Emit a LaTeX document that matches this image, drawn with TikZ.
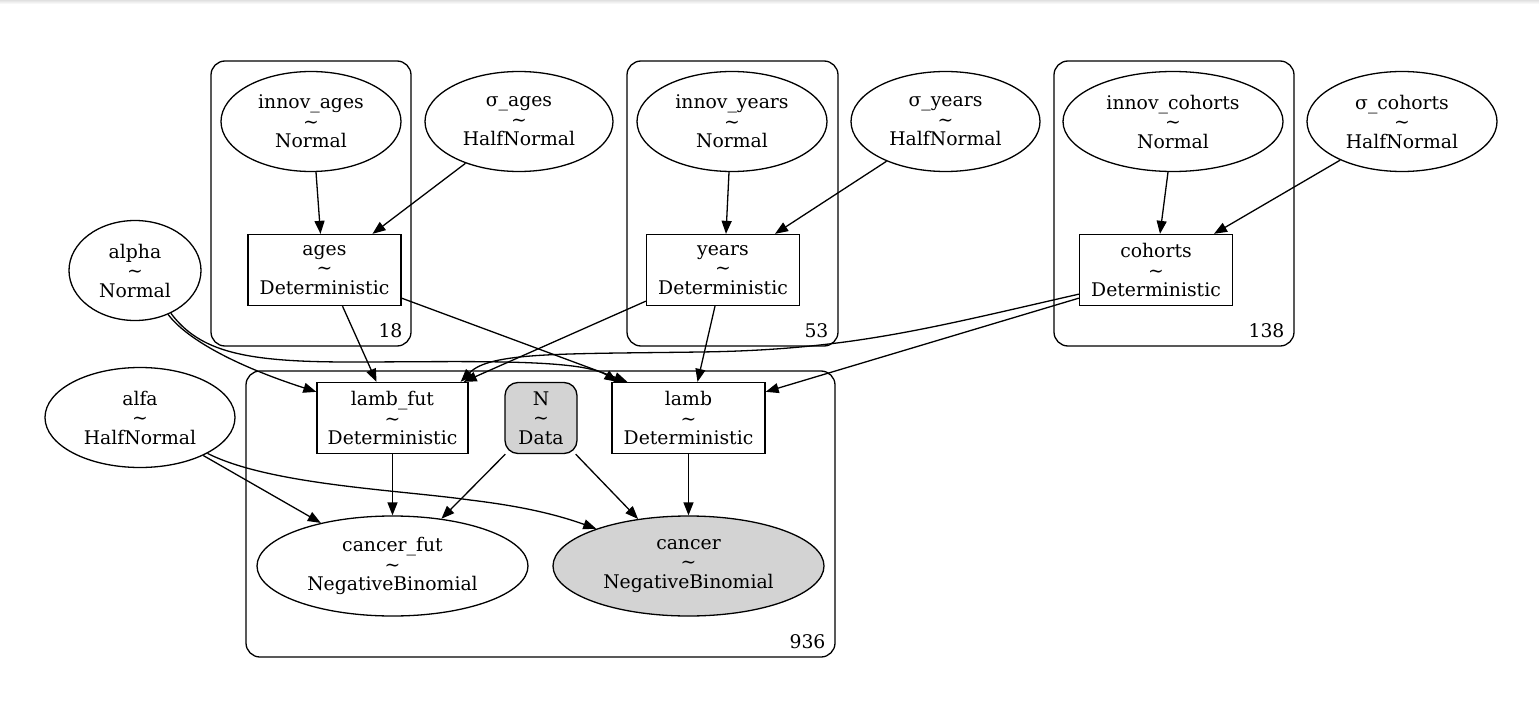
\documentclass[tikz,border=0pt]{standalone}
\usepackage{fontspec}
\setmainfont{DejaVu Serif}
\usetikzlibrary{arrows.meta,shapes.geometric}
\definecolor{lgray}{HTML}{D3D3D3}
\begin{document}
\begin{tikzpicture}[x=1pt,y=-1pt,
  every node/.style={font=\fontsize{18.8}{19.5}\selectfont, align=center, inner sep=0pt},
  rv/.style={draw, ellipse, minimum height=100pt, line width=1.3pt},
  det/.style={draw, rectangle, minimum width=153pt, minimum height=71pt, line width=1.3pt},
  plate/.style={draw, rectangle, rounded corners=14pt, line width=1.3pt},
  platelbl/.style={anchor=south east},
  edge/.style={draw, line width=1.3pt, -{Triangle[length=13pt,width=10pt]}},
]
\useasboundingbox (0,0) rectangle (1539,706);
\fill[white] (0,0) rectangle (1539,706);
\shade[top color=black!12, bottom color=white] (0,0) rectangle (1539,4);

% plates
\node[plate, minimum width=200pt, minimum height=285pt] (p18) at (311,203.5) {};
\node[platelbl] (l18) at ([xshift=-9pt,yshift=9pt]p18.south east) {18};
\node[plate, minimum width=211pt, minimum height=285pt] (p53) at (732.5,203.5) {};
\node[platelbl] (l53) at ([xshift=-10pt,yshift=9pt]p53.south east) {53};
\node[plate, minimum width=240pt, minimum height=285pt] (p138) at (1174,203.5) {};
\node[platelbl] (l138) at ([xshift=-10pt,yshift=9pt]p138.south east) {138};
\node[plate, minimum width=589pt, minimum height=286pt] (p936) at (540.5,514) {};
\node[platelbl] (l936) at ([xshift=-10pt,yshift=9pt]p936.south east) {936};

% random variables
\node[rv, minimum width=180pt] (innov_ages) at (311,121.5) {innov\_ages\\\textasciitilde\\Normal};
\node[rv, minimum width=188pt] (sigma_ages) at (519,121.5) {σ\_ages\\\textasciitilde\\HalfNormal};
\node[rv, minimum width=190pt] (innov_years) at (732,121.5) {innov\_years\\\textasciitilde\\Normal};
\node[rv, minimum width=189pt] (sigma_years) at (945.5,121.5) {σ\_years\\\textasciitilde\\HalfNormal};
\node[rv, minimum width=220pt] (innov_cohorts) at (1173,121.5) {innov\_cohorts\\\textasciitilde\\Normal};
\node[rv, minimum width=190pt] (sigma_cohorts) at (1402,121.5) {σ\_cohorts\\\textasciitilde\\HalfNormal};
\node[rv, minimum width=132pt] (alpha) at (135,270.5) {alpha\\\textasciitilde\\Normal};
\node[rv, minimum width=190pt] (alfa) at (140,417.5) {alfa\\\textasciitilde\\HalfNormal};
\node[rv, minimum width=271pt] (cancer_fut) at (392.5,566) {cancer\_fut\\\textasciitilde\\NegativeBinomial};
\node[rv, minimum width=271pt, fill=lgray] (cancer) at (688.5,566) {cancer\\\textasciitilde\\NegativeBinomial};

% deterministic
\node[det] (ages) at (324.5,270) {ages\\\textasciitilde\\Deterministic};
\node[det] (years) at (723,270) {years\\\textasciitilde\\Deterministic};
\node[det] (cohorts) at (1156,270) {cohorts\\\textasciitilde\\Deterministic};
\node[det, minimum width=151pt] (lamb_fut) at (392.5,418) {lamb\_fut\\\textasciitilde\\Deterministic};
\node[det] (lamb) at (688.5,418) {lamb\\\textasciitilde\\Deterministic};
\node[draw, rectangle, rounded corners=13pt, fill=lgray, line width=1.3pt, minimum width=72pt, minimum height=71pt] (N) at (541,418) {N\\\textasciitilde\\Data};

% edges
\path[edge] ([xshift=5pt]innov_ages.south) -- ([xshift=-4pt]ages.north);
\path[edge] (sigma_ages.218) -- ([xshift=48pt]ages.north);
\path[edge] ([xshift=-3pt]innov_years.south) -- ([xshift=3pt]years.north);
\path[edge] (sigma_years.214) -- ([xshift=52pt]years.north);
\path[edge] ([xshift=-5pt]innov_cohorts.south) -- ([xshift=4pt]cohorts.north);
\path[edge] (sigma_cohorts.212) -- ([xshift=58pt]cohorts.north);

\path[edge] ([xshift=18pt]ages.south) -- ([xshift=-16pt]lamb_fut.north);
\path[edge] ([yshift=8pt]ages.south east) -- ([xshift=16pt]lamb.north west);
\path[edge] ([yshift=5pt]years.south west) -- ([xshift=-5pt]lamb_fut.north east);
\path[edge] ([xshift=-8pt]years.south) -- ([xshift=9pt]lamb.north);
\path[edge] ([yshift=12pt]cohorts.south west) .. controls (930,328) and (850,350) .. (700,352)
   .. controls (560,354) and (490,352) .. ([xshift=-8pt]lamb_fut.north east);
\path[edge] ([yshift=8pt]cohorts.south west) -- ([yshift=-10pt]lamb.north east);

\path[edge] (alpha.-53) .. controls (185,337) and (230,364) .. ([yshift=-10pt]lamb_fut.north west);
\path[edge] (alpha.-50) .. controls (200,352) and (245,362) .. (350,362)
   .. controls (460,362) and (580,358) .. ([xshift=6pt]lamb.north west);

\path[edge] (alfa.-31) -- (cancer_fut.149);
\path[edge] (alfa.-28) .. controls (270,485) and (400,490) .. (470,500)
   .. controls (520,506) and (555,514) .. (cancer.158);

\path[edge] (lamb_fut.south) -- (cancer_fut.north);
\path[edge] ([xshift=1pt]N.south west) -- (cancer_fut.44);
\path[edge] ([xshift=-2pt]N.south east) -- (cancer.137);
\path[edge] (lamb.south) -- (cancer.north);
\end{tikzpicture}
\end{document}
